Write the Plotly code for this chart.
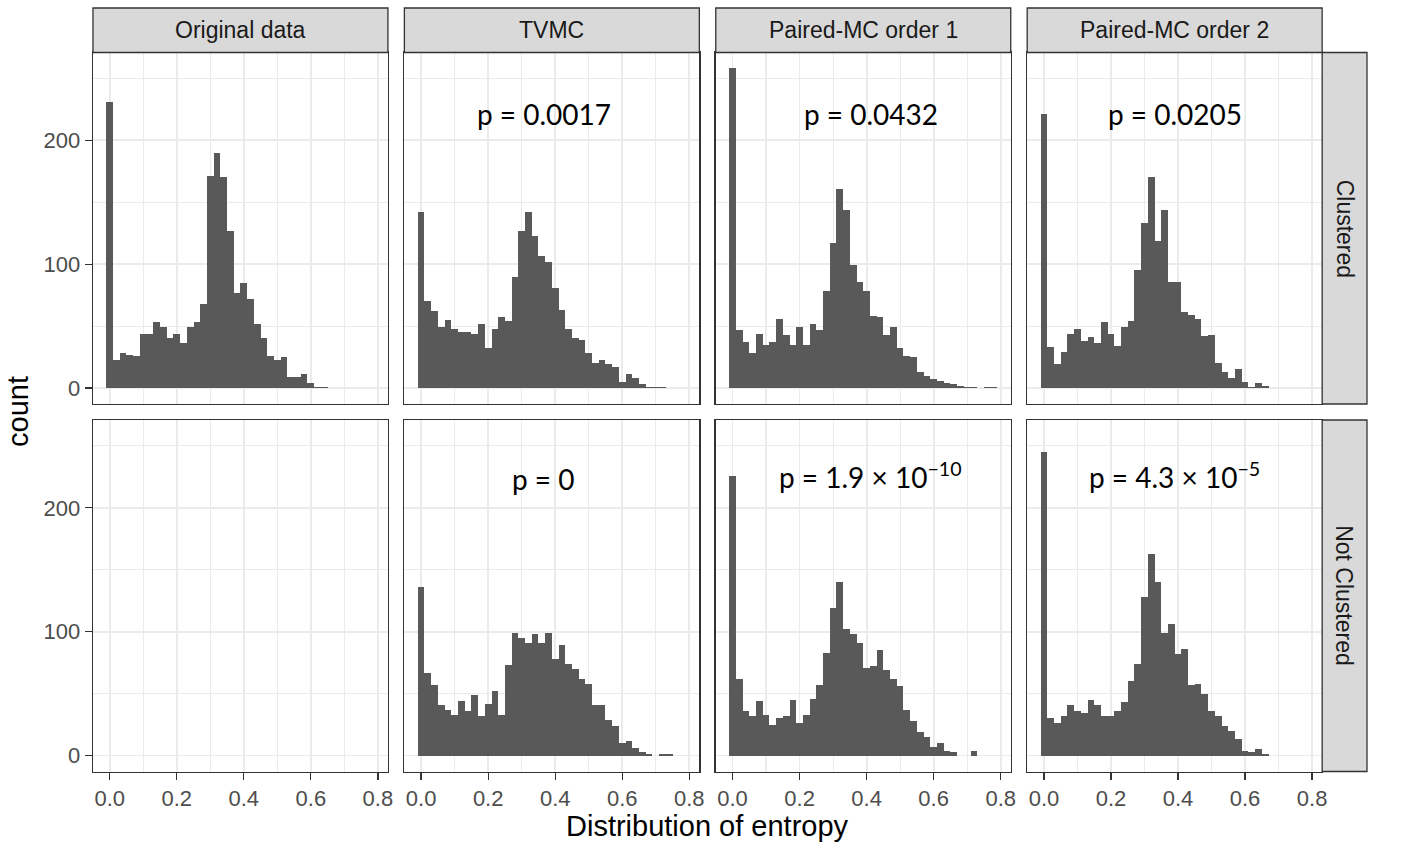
import plotly.graph_objects as go

# ---------------- data ----------------
BIN_WIDTH = 0.02
methods = ["Original data", "TVMC", "Paired-MC order 1", "Paired-MC order 2"]
groups = ["Clustered", "Not Clustered"]
x_ticks = [0.0, 0.2, 0.4, 0.6, 0.8]
x_tick_labels = ["0.0", "0.2", "0.4", "0.6", "0.8"]
y_ticks = [0, 100, 200]
y_tick_labels = ["0", "100", "200"]

counts_original_clustered = [231, 23, 28, 27, 26, 44, 44, 53, 49, 40, 44, 36, 49, 53, 68, 171, 190, 170,
                             127, 77, 85, 72, 52, 40, 26, 23, 25, 9, 9, 11, 4, 1, 1]
counts_tvmc_clustered = [142, 70, 62, 49, 55, 48, 45, 45, 44, 52, 32, 48, 57, 54, 90, 127, 142, 123, 107,
                         102, 81, 63, 48, 40, 39, 28, 20, 23, 19, 17, 5, 11, 8, 3, 1, 1, 1]
counts_pmc1_clustered = [258, 47, 37, 28, 44, 35, 37, 56, 43, 35, 49, 35, 52, 47, 78, 117, 161, 144, 99,
                         86, 78, 58, 57, 43, 49, 32, 26, 25, 13, 10, 7, 6, 4, 3, 2, 1, 1, 0, 1, 1]
counts_pmc2_clustered = [221, 33, 19, 29, 44, 48, 38, 41, 36, 53, 44, 34, 49, 54, 95, 133, 170, 119, 144,
                         86, 86, 61, 59, 56, 42, 43, 20, 13, 8, 15, 5, 1, 4, 2]

counts_original_not_clustered = []
counts_tvmc_not_clustered = [136, 67, 57, 41, 37, 33, 44, 36, 49, 32, 42, 52, 33, 73, 99, 95, 91, 98, 91,
                             99, 78, 89, 74, 70, 62, 58, 41, 41, 29, 24, 10, 12, 6, 3, 1, 0, 1, 1]
counts_pmc1_not_clustered = [226, 62, 36, 32, 44, 33, 25, 30, 32, 45, 26, 33, 46, 57, 83, 119, 140, 102,
                             98, 91, 71, 72, 85, 69, 62, 56, 37, 28, 19, 15, 7, 10, 4, 3, 0, 0, 4]
counts_pmc2_not_clustered = [245, 30, 26, 32, 41, 36, 34, 45, 41, 32, 32, 36, 43, 60, 74, 128, 163, 140,
                             99, 106, 82, 86, 57, 58, 50, 36, 32, 24, 20, 13, 4, 3, 5, 1]

p_text_clustered = [None, "p = 0.0017", "p = 0.0432", "p = 0.0205"]
p_text_not_clustered = [None, "p = 0", "p = 1.9 × 10<sup>−10</sup>", "p = 4.3 × 10<sup>−5</sup>"]

panel_counts = [
    [counts_original_clustered, counts_tvmc_clustered, counts_pmc1_clustered, counts_pmc2_clustered],
    [counts_original_not_clustered, counts_tvmc_not_clustered, counts_pmc1_not_clustered,
     counts_pmc2_not_clustered],
]
panel_p = [p_text_clustered, p_text_not_clustered]

# ---------------- layout geometry (pixels) ----------------
W, H = 1428, 854
PANEL_LEFT = [93.3, 405.8, 718.3, 1030.8]
PANEL_W = 296.0
PANEL_TOP = [52.5, 420.0]
PANEL_H = 351.5
STRIP_TOP_Y0 = 8.0
STRIP_RIGHT_W = 45.0
X_RANGE = [-0.05, 0.83]
Y_RANGE = [-12.9, 270.9]
P_X = [[None, 0.366, 0.413, 0.392], [None, 0.366, 0.413, 0.388]]
P_Y = [[None, 221, 221, 221], [None, 223, 226, 226]]

BAR_COLOR = "#595959"
BORDER = "#333333"
GRID = "#EBEBEB"
STRIP_FILL = "#D9D9D9"
FONT = "Liberation Sans"


def px_x(v):
    return v / W


def px_y(v):
    return 1 - v / H


fig = go.Figure()
layout = dict(
    width=W, height=H,
    margin=dict(l=0, r=0, t=0, b=0),
    paper_bgcolor="white", plot_bgcolor="white",
    showlegend=False, bargap=0,
    font=dict(family=FONT, color="#4D4D4D"),
)
shapes = []
annotations = []

for r in range(2):
    for c in range(4):
        k = r * 4 + c + 1
        xs = "" if k == 1 else str(k)
        counts = panel_counts[r][c]
        centers = [round(i * BIN_WIDTH, 2) for i in range(len(counts))]
        fig.add_trace(go.Bar(
            x=centers, y=counts, width=BIN_WIDTH,
            marker=dict(color=BAR_COLOR, line=dict(width=0)),
            xaxis="x" + xs, yaxis="y" + xs, hoverinfo="skip",
        ))
        L = PANEL_LEFT[c]
        T = PANEL_TOP[r]
        bottom_row = (r == 1)
        left_col = (c == 0)
        layout["xaxis" + xs] = dict(
            domain=[px_x(L), px_x(L + PANEL_W)], anchor="y" + xs, range=X_RANGE,
            tickmode="array", tickvals=x_ticks, ticktext=x_tick_labels,
            showticklabels=bottom_row, ticks="outside" if bottom_row else "",
            ticklen=7, tickwidth=1.3, tickcolor=BORDER,
            tickfont=dict(size=22, color="#4D4D4D", family=FONT),
            showgrid=True, gridcolor=GRID, gridwidth=1.8, zeroline=False,
            minor=dict(tickmode="array", tickvals=[0.1, 0.3, 0.5, 0.7], showgrid=True,
                       gridcolor=GRID, gridwidth=1.2, ticks=""),
            showline=True, mirror=True, linecolor=BORDER, linewidth=1.3, fixedrange=True,
        )
        layout["yaxis" + xs] = dict(
            domain=[px_y(T + PANEL_H), px_y(T)], anchor="x" + xs, range=Y_RANGE,
            tickmode="array", tickvals=y_ticks, ticktext=y_tick_labels,
            showticklabels=left_col, ticks="outside" if left_col else "",
            ticklen=7, tickwidth=1.3, tickcolor=BORDER,
            tickfont=dict(size=22, color="#4D4D4D", family=FONT),
            showgrid=True, gridcolor=GRID, gridwidth=1.8, zeroline=False,
            minor=dict(tickmode="array", tickvals=[50, 150, 250], showgrid=True,
                       gridcolor=GRID, gridwidth=1.2, ticks=""),
            showline=True, mirror=True, linecolor=BORDER, linewidth=1.3, fixedrange=True,
        )
        ptxt = panel_p[r][c]
        if ptxt:
            annotations.append(dict(
                x=P_X[r][c], y=P_Y[r][c], xref="x" + xs, yref="y" + xs, text=ptxt,
                showarrow=False, xanchor="center", yanchor="middle",
                font=dict(family="Lato", size=28, color="black"),
            ))

# top strips
for c, name in enumerate(methods):
    L = PANEL_LEFT[c]
    shapes.append(dict(type="rect", xref="paper", yref="paper",
                       x0=px_x(L), x1=px_x(L + PANEL_W), y0=px_y(PANEL_TOP[0]), y1=px_y(STRIP_TOP_Y0),
                       fillcolor=STRIP_FILL, line=dict(color=BORDER, width=1.3), layer="above"))
    annotations.append(dict(x=px_x(L + PANEL_W / 2), y=px_y((PANEL_TOP[0] + STRIP_TOP_Y0) / 2),
                            xref="paper", yref="paper", text=name, showarrow=False,
                            xanchor="center", yanchor="middle",
                            font=dict(family=FONT, size=23, color="#1A1A1A")))

# right strips
RX0 = PANEL_LEFT[3] + PANEL_W
for r, name in enumerate(groups):
    T = PANEL_TOP[r]
    shapes.append(dict(type="rect", xref="paper", yref="paper",
                       x0=px_x(RX0), x1=px_x(RX0 + STRIP_RIGHT_W), y0=px_y(T + PANEL_H), y1=px_y(T),
                       fillcolor=STRIP_FILL, line=dict(color=BORDER, width=1.3), layer="above"))
    annotations.append(dict(x=px_x(RX0 + STRIP_RIGHT_W / 2), y=px_y(T + PANEL_H / 2),
                            xref="paper", yref="paper", text=name, showarrow=False, textangle=90,
                            xanchor="center", yanchor="middle",
                            font=dict(family=FONT, size=23, color="#1A1A1A")))

# axis titles
annotations.append(dict(x=px_x(18), y=px_y(411), xref="paper", yref="paper", text="count",
                        showarrow=False, textangle=-90, xanchor="center", yanchor="middle",
                        font=dict(family=FONT, size=29, color="black")))
annotations.append(dict(x=px_x((PANEL_LEFT[0] + PANEL_LEFT[3] + PANEL_W) / 2), y=px_y(826),
                        xref="paper", yref="paper", text="Distribution of entropy",
                        showarrow=False, xanchor="center", yanchor="middle",
                        font=dict(family=FONT, size=29, color="black")))

layout["shapes"] = shapes
layout["annotations"] = annotations
fig.update_layout(**layout)

fig.write_html("out.html", config={"displayModeBar": False, "staticPlot": True},
               post_script="document.body.style.margin='0';document.body.style.overflow='hidden';")
